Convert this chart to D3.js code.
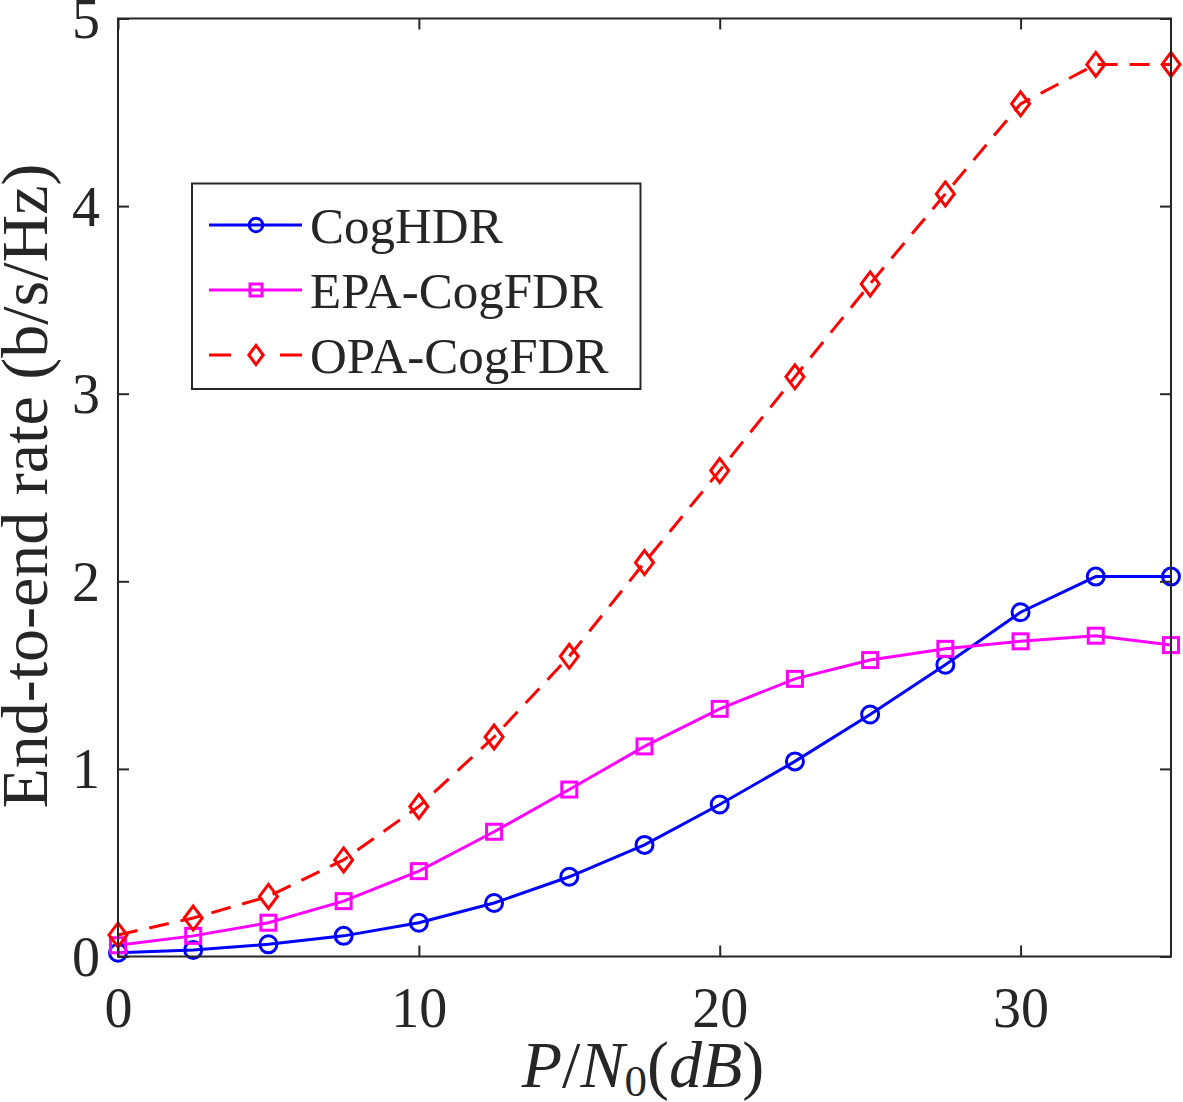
<!DOCTYPE html>
<html><head><meta charset="utf-8">
<script src="https://cdn.jsdelivr.net/npm/d3@7"></script>
<style>body{margin:0;background:#fff}svg text{font-family:"Liberation Serif","Times New Roman",serif;fill:#262626}</style>
</head><body><svg id="c" width="1183" height="1102"></svg>
<script>
const xs = [0,2.5,5,7.5,10,12.5,15,17.5,20,22.5,25,27.5,30,32.5,35];
const cogHDR = [0.02,0.035,0.065,0.11,0.18,0.285,0.425,0.595,0.81,1.04,1.29,1.555,1.835,2.025,2.025];
const epaCogFDR = [0.06,0.11,0.18,0.295,0.455,0.665,0.89,1.12,1.32,1.48,1.58,1.64,1.68,1.71,1.66];
const opaCogFDR = [0.115,0.205,0.32,0.515,0.80,1.17,1.60,2.10,2.59,3.09,3.585,4.065,4.545,4.755,4.755];
const seriesNames = ["CogHDR","EPA-CogFDR","OPA-CogFDR"];
const xTicks = [0,10,20,30];
const yTicks = [0,1,2,3,4,5];

const svg = d3.select("#c");
const L=118,R=1171,T=18.5,B=956.5;
const x = d3.scaleLinear().domain([0,35]).range([L,R]);
const y = d3.scaleLinear().domain([0,5]).range([B,T]);
const axc="#262626";

const series=[
 {name:seriesNames[0],vals:cogHDR,color:"#0000ff",marker:"circle",dash:null},
 {name:seriesNames[1],vals:epaCogFDR,color:"#ff00ff",marker:"square",dash:null},
 {name:seriesNames[2],vals:opaCogFDR,color:"#ff0000",marker:"diamond",dash:"20,12"}
];

function drawMarker(g,type,cx,cy,color,s){
  s = s||1;
  if(type==="circle") g.append("circle").attr("cx",cx).attr("cy",cy).attr("r",8.5*s).attr("fill","none").attr("stroke",color).attr("stroke-width",3);
  else if(type==="square") g.append("rect").attr("x",cx-7.5*s).attr("y",cy-7.5*s).attr("width",15*s).attr("height",15*s).attr("fill","none").attr("stroke",color).attr("stroke-width",3);
  else g.append("path").attr("d",`M${cx},${cy-12*s}L${cx+9*s},${cy}L${cx},${cy+12*s}L${cx-9*s},${cy}Z`).attr("fill","none").attr("stroke",color).attr("stroke-width",3);
}

const line = d3.line().x((d,i)=>x(xs[i])).y(d=>y(d));
series.forEach(s=>{
  svg.append("path").attr("d",line(s.vals)).attr("fill","none").attr("stroke",s.color).attr("stroke-width",3)
    .attr("stroke-dasharray",s.dash);
});
series.forEach(s=>{
  const g=svg.append("g");
  s.vals.forEach((v,i)=>drawMarker(g,s.marker,x(xs[i]),y(v),s.color));
});

const fmt = d3.format("d");
const gb = svg.append("g").attr("transform",`translate(0,${B})`).call(d3.axisBottom(x).tickValues(xTicks).tickFormat(fmt).tickSize(-11).tickPadding(31));
const gt = svg.append("g").attr("transform",`translate(0,${T})`).call(d3.axisTop(x).tickValues(xTicks).tickSize(-11).tickFormat(""));
const gl = svg.append("g").attr("transform",`translate(${L},0)`).call(d3.axisLeft(y).tickValues(yTicks).tickFormat(fmt).tickSize(-11).tickPadding(18));
const gr = svg.append("g").attr("transform",`translate(${R},0)`).call(d3.axisRight(y).tickValues(yTicks).tickSize(-11).tickFormat(""));
[gb,gt,gl,gr].forEach(g=>{
  g.selectAll(".domain").remove();
  g.selectAll(".tick line").attr("stroke",axc).attr("stroke-width",2);
  g.selectAll("text").attr("font-size",56).attr("fill",axc);
});
gb.selectAll("text").attr("dy","0.71em");
gl.selectAll("text").attr("dy","0.34em");
svg.append("rect").attr("x",L).attr("y",T).attr("width",R-L).attr("height",B-T).attr("fill","none").attr("stroke",axc).attr("stroke-width",2);

// axis labels
svg.append("text").attr("transform",`translate(47,486) rotate(-90)`).attr("text-anchor","middle")
  .attr("font-size",66).text("End-to-end rate (b/s/Hz)");
const xl = svg.append("text").attr("x",643).attr("y",1087).attr("text-anchor","middle").attr("font-size",66);
xl.append("tspan").attr("font-style","italic").text("P");
xl.append("tspan").text("/");
xl.append("tspan").attr("font-style","italic").text("N");
xl.append("tspan").attr("font-size",45).attr("dy",9).text("0");
xl.append("tspan").attr("dy",-9).text("(");
xl.append("tspan").attr("font-style","italic").text("dB");
xl.append("tspan").text(")");

// legend
const lg = svg.append("g");
lg.append("rect").attr("x",192).attr("y",183.5).attr("width",448.5).attr("height",205.5).attr("fill","#fff").attr("stroke",axc).attr("stroke-width",2);
const ly=[225,290,355];
series.forEach((s,i)=>{
  lg.append("line").attr("x1",209).attr("x2",302).attr("y1",ly[i]).attr("y2",ly[i]).attr("stroke",s.color).attr("stroke-width",3)
    .attr("stroke-dasharray",s.dash? "22,49":null);
  drawMarker(lg,s.marker,256,ly[i],s.color,0.8);
  lg.append("text").attr("x",310).attr("y",ly[i]).attr("dy","0.35em").attr("font-size",51).attr("fill","#000").text(s.name);
});
</script></body></html>
